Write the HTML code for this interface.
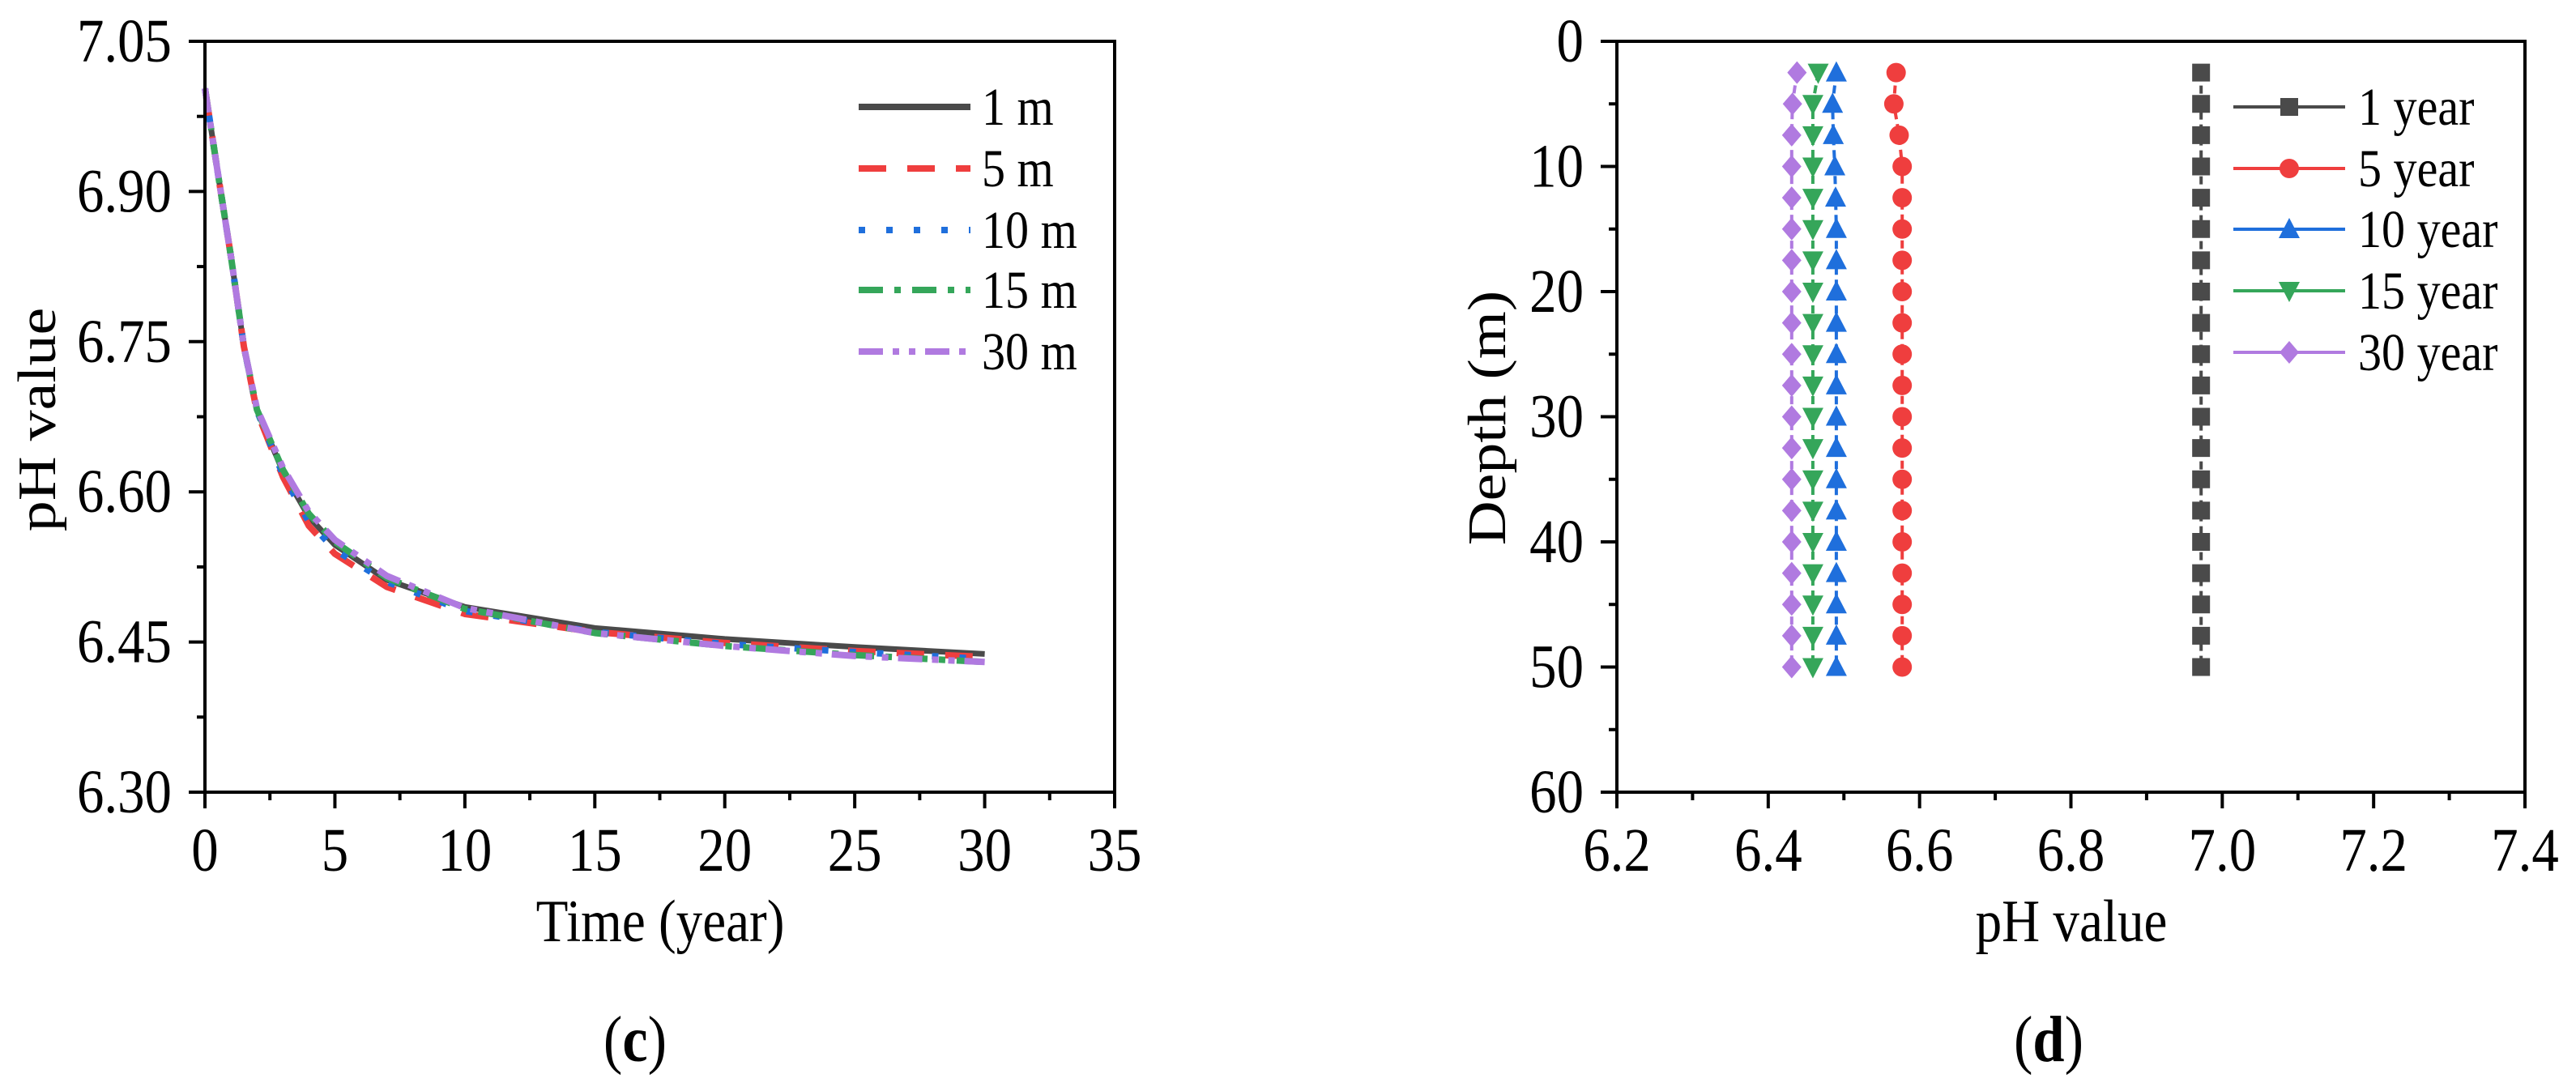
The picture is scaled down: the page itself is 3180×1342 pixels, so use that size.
<!DOCTYPE html>
<html><head><meta charset="utf-8"><style>
html,body{margin:0;padding:0;background:#fff}
svg{display:block}
svg text{font-family:"Liberation Serif","Times New Roman","DejaVu Serif",serif;fill:#000}
</style></head><body>
<svg id="fig" width="3180" height="1342" viewBox="0 0 3180 1342"></svg>
<script>
// Panel (c) data
const timeYears = [0,0.5,1,1.5,2,3,4,5,7,10,15,20,25,30];
const ph1m  = [7.003,6.918,6.835,6.745,6.682,6.620,6.575,6.547,6.512,6.485,6.464,6.453,6.445,6.438];
const ph5m  = [7.003,6.918,6.835,6.745,6.680,6.615,6.566,6.538,6.505,6.478,6.460,6.449,6.441,6.435];
const ph10m = [7.003,6.918,6.835,6.745,6.681,6.617,6.570,6.542,6.510,6.481,6.460,6.448,6.440,6.433];
const ph15m = [7.003,6.918,6.835,6.745,6.682,6.622,6.578,6.550,6.514,6.483,6.459,6.446,6.437,6.430];
const ph30m = [7.003,6.918,6.835,6.745,6.683,6.624,6.580,6.552,6.516,6.484,6.459,6.446,6.436,6.430];
const cLabels = ["1 m","5 m","10 m","15 m","30 m"];
const cXTicks = [0,5,10,15,20,25,30,35];
const cYTicks = [6.30,6.45,6.60,6.75,6.90,7.05];
// Panel (d) data
const depths = [2.5,5,7.5,10,12.5,15,17.5,20,22.5,25,27.5,30,32.5,35,37.5,40,42.5,45,47.5,50];
const y1  = [6.972,6.972,6.972,6.972,6.972,6.972,6.972,6.972,6.972,6.972,6.972,6.972,6.972,6.972,6.972,6.972,6.972,6.972,6.972,6.972];
const y5  = [6.569,6.566,6.573,6.577,6.577,6.577,6.577,6.577,6.577,6.577,6.577,6.577,6.577,6.577,6.577,6.577,6.577,6.577,6.577,6.577];
const y10 = [6.490,6.485,6.486,6.488,6.489,6.490,6.490,6.490,6.490,6.490,6.490,6.490,6.490,6.490,6.490,6.490,6.490,6.490,6.490,6.490];
const y15 = [6.466,6.459,6.459,6.459,6.459,6.459,6.459,6.459,6.459,6.459,6.459,6.459,6.459,6.459,6.459,6.459,6.459,6.459,6.459,6.459];
const y30 = [6.438,6.432,6.431,6.431,6.431,6.431,6.431,6.431,6.431,6.431,6.431,6.431,6.431,6.431,6.431,6.431,6.431,6.431,6.431,6.431];
const dLabels = ["1 year","5 year","10 year","15 year","30 year"];
const dXTicks = [6.2,6.4,6.6,6.8,7.0,7.2,7.4];
const dYTicks = [0,10,20,30,40,50,60];

const NS="http://www.w3.org/2000/svg";
const svg=document.getElementById('fig');
const FONT='"Liberation Serif", "Times New Roman", "DejaVu Serif", serif';
const SX=0.88;
function el(tag,attrs,parent,txt){const e=document.createElementNS(NS,tag);for(const k in attrs)e.setAttribute(k,attrs[k]);if(tag==='text'){e.setAttribute('font-family',FONT);}if(txt!==undefined)e.textContent=txt;(parent||svg).appendChild(e);return e;}
function txt(x,y,size,anchor,s,parent,rot){
  const tr=rot?`translate(${x},${y}) rotate(-90) scale(1,${SX})`:`translate(${x},${y}) scale(${SX},1)`;
  return el('text',{x:0,y:0,'font-size':size,'text-anchor':anchor,transform:tr},parent,s);
}
const colors=["#4a4a4a","#ef3e3e","#1f6fdc","#35a65a","#b07ae0"];

// ---------- Panel C ----------
const cx0=253,cx1=1376,cy0=51,cy1=978;
const cX=v=>cx0+(v-0)/(35-0)*(cx1-cx0);
const cY=v=>cy1-(v-6.30)/(7.05-6.30)*(cy1-cy0);
const gc=el('g',{});


const cSeries=[ph1m,ph5m,ph10m,ph15m,ph30m];
const cDash=["none","34 26","8 26","30 14 8 14","30 12 8 12 8 12"];
cSeries.forEach((s,i)=>{
  let d='';s.forEach((v,j)=>{d+=(j?'L':'M')+cX(timeYears[j]).toFixed(1)+' '+cY(v).toFixed(1);});
  const p=el('path',{d:d,fill:'none',stroke:colors[i],'stroke-width':i==0?7:8,'stroke-dasharray':cDash[i],'stroke-linejoin':'round'},gc);
  
  
});
el('rect',{x:cx0,y:cy0,width:cx1-cx0,height:cy1-cy0,fill:'none',stroke:'#000','stroke-width':4},gc);
for(let v=0;v<=35.01;v+=2.5){const maj=Math.abs(v%5)<0.01;el('line',{x1:cX(v),x2:cX(v),y1:cy1,y2:cy1+(maj?20:10),stroke:'#000','stroke-width':4},gc);}
cXTicks.forEach(v=>{const t=txt(cX(v),1075,76,'middle',String(v),gc);});
for(let k=0;k<=10;k++){const v=6.30+k*0.075;const maj=k%2==0;el('line',{x1:cx0,x2:cx0-(maj?20:10),y1:cY(v),y2:cY(v),stroke:'#000','stroke-width':4},gc);}
cYTicks.forEach(v=>{const t=txt(212,cY(v)+25,76,'end',v.toFixed(2),gc);});
let t=txt(815,1162,74,'middle','Time (year)',gc);
t=txt(68,518,76,'middle','pH value',gc,true);
t=txt(784,1310,80,'middle','',gc);
el('tspan',{},t,'(');el('tspan',{'font-weight':'bold'},t,'c');el('tspan',{},t,')');
const cRows=[132,208,284,358,434];
cLabels.forEach((l,i)=>{
  const g=el('g',{},gc);
  el('line',{x1:1060,x2:1198,y1:cRows[i],y2:cRows[i],stroke:colors[i],'stroke-width':8,'stroke-dasharray':cDash[i]},g);
  txt(1212,cRows[i]+22,66,'start',l,g);
});

// ---------- Panel D ----------
const dx0=1996,dx1=3117,dy0=51,dy1=978;
const dX=v=>dx0+(v-6.2)/(7.4-6.2)*(dx1-dx0);
const dY=v=>dy0+(v-0)/(60-0)*(dy1-dy0);
const gd=el('g',{});


function marker(type,x,y,c,parent){
  const r=11;
  if(type==0) return el('rect',{x:x-r,y:y-r,width:2*r,height:2*r,fill:c},parent);
  if(type==1) return el('circle',{cx:x,cy:y,r:r+1,fill:c},parent);
  if(type==2) return el('polygon',{points:`${x},${y-r-3} ${x+r+2},${y+r} ${x-r-2},${y+r}`,fill:c},parent);
  if(type==3) return el('polygon',{points:`${x},${y+r+3} ${x+r+2},${y-r} ${x-r-2},${y-r}`,fill:c},parent);
  return el('polygon',{points:`${x},${y-r-3} ${x+r+1},${y} ${x},${y+r+3} ${x-r-1},${y}`,fill:c},parent);
}
const dSeries=[y1,y5,y10,y15,y30];
dSeries.forEach((s,i)=>{
  const g=el('g',{},gd);
  let d='';s.forEach((v,j)=>{d+=(j?'L':'M')+dX(v).toFixed(1)+' '+dY(depths[j]).toFixed(1);});
  el('path',{d:d,fill:'none',stroke:colors[i],'stroke-width':4,'stroke-dasharray':'10 6'},g);
  s.forEach((v,j)=>{const m=marker(i,dX(v),dY(depths[j]),colors[i],g);});
});
el('rect',{x:dx0,y:dy0,width:dx1-dx0,height:dy1-dy0,fill:'none',stroke:'#000','stroke-width':4},gd);
for(let k=0;k<=12;k++){const v=6.2+k*0.1;const maj=k%2==0;el('line',{x1:dX(v),x2:dX(v),y1:dy1,y2:dy1+(maj?20:10),stroke:'#000','stroke-width':4},gd);}
dXTicks.forEach(v=>{const t=txt(dX(v),1075,76,'middle',v.toFixed(1),gd);});
for(let v=0;v<=60;v+=5){const maj=v%10==0;el('line',{x1:dx0,x2:dx0-(maj?20:10),y1:dY(v),y2:dY(v),stroke:'#000','stroke-width':4},gd);}
dYTicks.forEach(v=>{const t=txt(1955,dY(v)+25,76,'end',String(v),gd);});
t=txt(2557,1162,74,'middle','pH value',gd);
t=txt(1858,516,76,'middle','Depth (m)',gd,true);
t=txt(2529,1310,80,'middle','',gd);
el('tspan',{},t,'(');el('tspan',{'font-weight':'bold'},t,'d');el('tspan',{},t,')');
const dRows=[132,208,283,359,435];
dLabels.forEach((l,i)=>{
  const g=el('g',{},gd);
  el('line',{x1:2757,x2:2895,y1:dRows[i],y2:dRows[i],stroke:colors[i],'stroke-width':4},g);
  marker(i,2826,dRows[i],colors[i],g);
  txt(2911,dRows[i]+22,66,'start',l,g);
});
</script>
</body></html>
